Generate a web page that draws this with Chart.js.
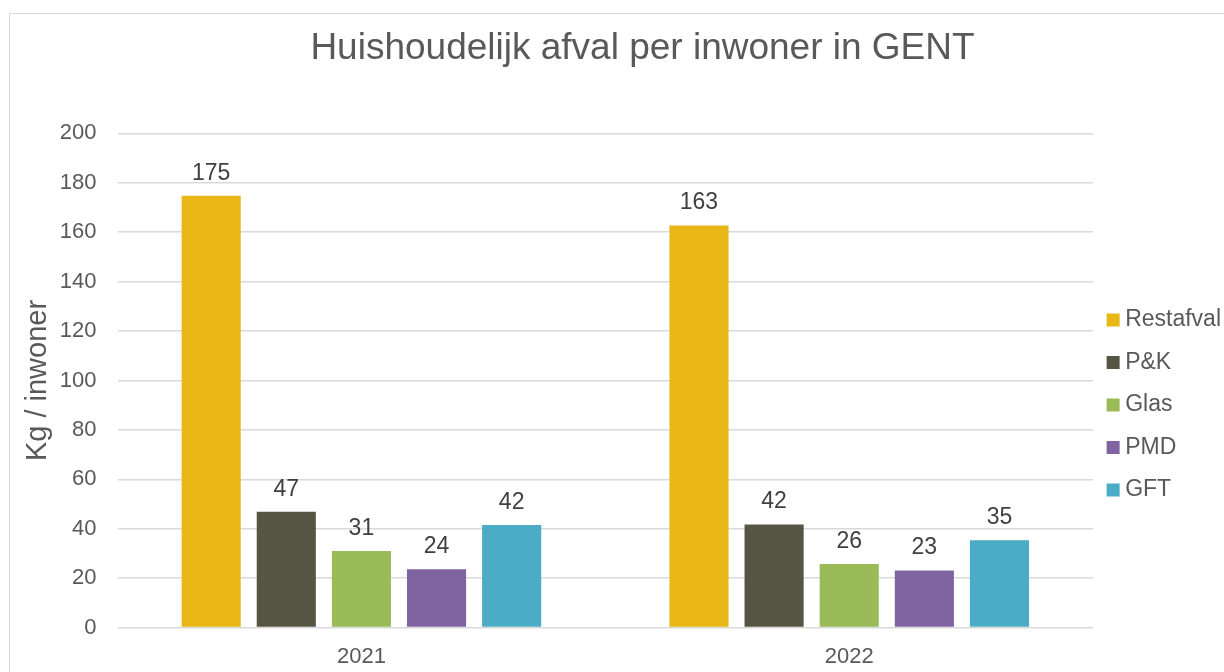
<!DOCTYPE html>
<html>
<head>
<meta charset="utf-8">
<script src="https://cdn.jsdelivr.net/npm/chart.js@4.4.1/dist/chart.umd.min.js"></script>
<style>
  html, body { margin: 0; padding: 0; width: 1224px; height: 672px; overflow: hidden; background: #ffffff; }
  #frame { position: absolute; left: 9px; top: 13px; width: 1400px; height: 800px; border: 1.5px solid #d9d9d9; box-sizing: border-box; }
  #c { position: absolute; left: 0; top: 0; }
</style>
</head>
<body>
<div id="frame"></div>
<canvas id="c" width="1285" height="672"></canvas>
<script>
const chartTitle = 'Huishoudelijk afval per inwoner in GENT';
const yAxisTitle = 'Kg / inwoner';
const categories = ['2021', '2022'];
const seriesNames = ['Restafval', 'P&K', 'Glas', 'PMD', 'GFT'];
const restafval = [174.8, 162.7];
const pk = [46.9, 41.7];
const glas = [31.0, 25.7];
const pmd = [23.6, 23.1];
const gft = [41.5, 35.4];
const seriesColors = ['#E9B716', '#565544', '#9BBB59', '#8064A2', '#4BACC6'];
const yTicksMin = 0, yTicksMax = 200, yTicksStep = 20;

const seriesValues = [restafval, pk, glas, pmd, gft];
const FONT = "'Liberation Sans', Arial, sans-serif";

const valueLabels = {
  id: 'valueLabels',
  afterDatasetsDraw(chart) {
    const ctx = chart.ctx;
    ctx.save();
    ctx.font = '23px ' + FONT;
    ctx.fillStyle = '#404040';
    ctx.textAlign = 'center';
    ctx.textBaseline = 'middle';
    chart.data.datasets.forEach((ds, i) => {
      const meta = chart.getDatasetMeta(i);
      meta.data.forEach((bar, j) => {
        ctx.fillText(String(Math.round(ds.data[j])), bar.x, bar.y - 22.5);
      });
    });
    ctx.restore();
  }
};

new Chart(document.getElementById('c'), {
  type: 'bar',
  data: {
    labels: categories,
    datasets: seriesNames.map((name, i) => ({
      label: name,
      data: seriesValues[i],
      backgroundColor: seriesColors[i],
      borderWidth: 0,
      categoryPercentage: 0.77,
      barPercentage: 0.787
    }))
  },
  options: {
    responsive: false,
    animation: false,
    layout: { padding: { left: 0, right: 0, top: 0, bottom: -6 } },
    plugins: {
      title: {
        display: true,
        text: chartTitle,
        color: '#595959',
        font: { family: FONT, size: 37, weight: 'normal' },
        padding: { top: 27, bottom: 62 }
      },
      legend: {
        position: 'right',
        fullSize: false,
        labels: {
          color: '#595959',
          font: { family: FONT, size: 23 },
          usePointStyle: true,
          pointStyle: 'rect',
          boxWidth: 1,
          boxHeight: 13,
          padding: 19.5
        },
        title: { display: true, text: '', padding: 24, font: { size: 1 } }
      },
      tooltip: { enabled: false }
    },
    scales: {
      x: {
        grid: { display: false },
        border: { display: false },
        ticks: { color: '#595959', font: { family: FONT, size: 22 }, padding: 8 }
      },
      y: {
        min: yTicksMin,
        max: yTicksMax,
        ticks: { stepSize: yTicksStep, color: '#595959', font: { family: FONT, size: 22 }, padding: 21 },
        grid: { color: '#d9d9d9', lineWidth: 1.5, drawTicks: false },
        border: { display: false },
        title: {
          display: true,
          text: yAxisTitle,
          color: '#595959',
          font: { family: FONT, size: 29 },
          padding: { top: 21, bottom: -17 }
        }
      },
      spacer: {
        type: 'linear',
        position: 'right',
        weight: 2000,
        grid: { display: false },
        border: { display: false },
        ticks: { display: false },
        afterFit: (scale) => { scale.width = 54; }
      }
    }
  },
  plugins: [valueLabels]
});
</script>
</body>
</html>
